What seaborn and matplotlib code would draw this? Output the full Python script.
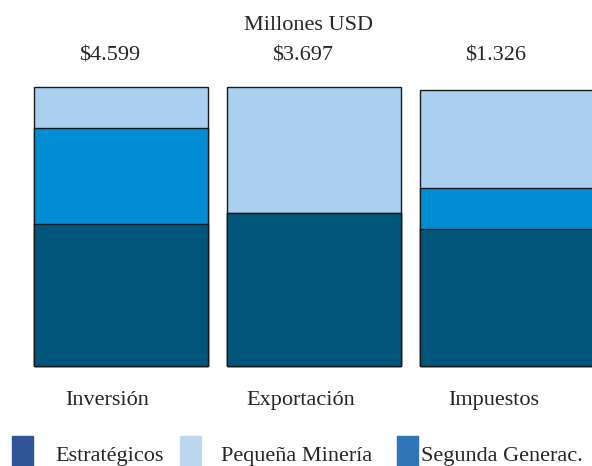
import numpy as np
import pandas as pd
import matplotlib
matplotlib.use('Agg')
import matplotlib.pyplot as plt
import seaborn as sns
from matplotlib.patches import Rectangle

# ── Data (share %) ───────────────────────────────────────────────────────────
categorias = ['Inversión', 'Exportación', 'Impuestos']
estrategicos = [50.9, 54.8, 49.1]
segunda_generac = [34.4, 0.0, 14.7]
pequena_mineria = [14.7, 45.2, 35.0]
totales = ['$4.599', '$3.697', '$1.326']
leyenda = ['Estratégicos', 'Pequeña Minería', 'Segunda Generac.']

COL_BAR = {'est': '#00557a', 'seg': '#008dd4', 'peq': '#abcfef'}
COL_LEG = ['#2f5597', '#bdd7ee', '#2e75b6']

sns.set_style('white')
plt.rcParams['font.family'] = ['Liberation Serif', 'DejaVu Serif']

df = pd.DataFrame({'cat': categorias, 'est': estrategicos,
                   'seg': segunda_generac, 'peq': pequena_mineria})
df['lvl2'] = df['est'] + df['seg']
df['lvl3'] = df['lvl2'] + df['peq']

fig = plt.figure(figsize=(5.92, 4.66), dpi=100)
ax = fig.add_axes([0, 0, 1, 1])

# stacked bars drawn back to front
for col, c in [('lvl3', COL_BAR['peq']), ('lvl2', COL_BAR['seg']), ('est', COL_BAR['est'])]:
    sns.barplot(data=df, x='cat', y=col, color=c, width=0.9, ax=ax,
                edgecolor='#1a1a1a', linewidth=1.0, saturation=1)

# pixel mapping: bar centres ~120, 313, 506 px ; 0 at y=366, 100 at y=87
ax.set_xlim(-121 / 193, (592 - 121) / 193)
ax.set_ylim(-100 * 100 / 279, 100 * 366 / 279)
ax.axis('off')

for i, (cat, tot) in enumerate(zip(categorias, totales)):
    ax.text(i - 0.07, -12.2, cat, ha='center', va='center', fontsize=16)
    ax.text(i - 0.06, 111.2, tot, ha='center', va='center', fontsize=16)
ax.text(0.97, 122.0, 'Millones USD', ha='center', va='center', fontsize=16)

# legend along the bottom edge
patch_x = [12, 180, 397]
text_x = [55, 221, 421]
for px, tx, lab, c in zip(patch_x, text_x, leyenda, COL_LEG):
    fig.patches.append(Rectangle((px / 592, 0), 21 / 592, 30 / 466,
                                 transform=fig.transFigure, color=c))
    fig.text(tx / 592, 9 / 466, lab, ha='left', va='center', fontsize=16)

plt.savefig('out.png', dpi=100)
plt.close()
